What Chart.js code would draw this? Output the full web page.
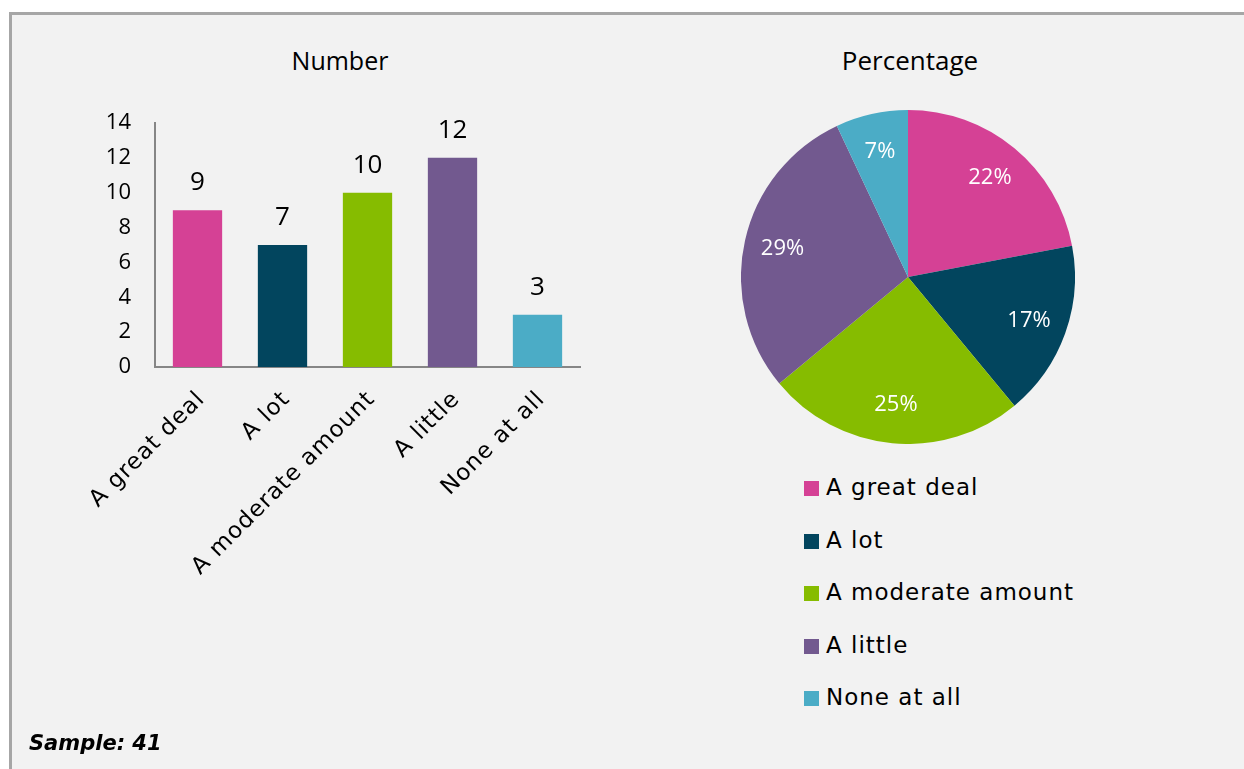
<!DOCTYPE html>
<html>
<head>
<meta charset="utf-8">
<title>Number and percentage</title>
<script src="https://cdn.jsdelivr.net/npm/chart.js@4.4.0/dist/chart.umd.min.js"></script>
<style>
    html, body { margin: 0; padding: 0; background: #fff; overflow: hidden; width: 1244px; height: 769px; }
    #frame {
        position: absolute; left: 9px; top: 12px; width: 1260px; height: 780px;
        background: #f2f2f2; border-top: 3px solid #a6a6a6; border-left: 3px solid #a6a6a6;
    }
    .chart-title {
        position: absolute; width: 240px; text-align: center;
        font: 25px "Open Sans", sans-serif; color: #000; line-height: 30px;
    }
    #bar-chart { position: absolute; left: 0; top: 0; }
    #pie-chart { position: absolute; left: 741px; top: 110px; }
    #pie-legend { position: absolute; left: 804px; top: 474px; margin: 0; padding: 0; list-style: none; }
    #pie-legend li {
        height: 52.5px; line-height: 52.5px; white-space: nowrap;
        font: 23px "DejaVu Sans", sans-serif; letter-spacing: 1px; color: #000;
    }
    #pie-legend .swatch { display: inline-block; width: 15px; height: 15px; margin-right: 7px; vertical-align: -1px; }
    #sample {
        position: absolute; left: 29px; top: 731px; line-height: 24px;
        font: oblique bold 21px "DejaVu Sans", sans-serif; color: #000;
    }
</style>
</head>
<body>
<div id="frame"></div>
<div class="chart-title" style="left:220px; top:45px;">Number</div>
<div class="chart-title" style="left:790px; top:45px; font-size:26px;">Percentage</div>
<canvas id="bar-chart" width="640" height="769"></canvas>
<canvas id="pie-chart" width="334" height="334"></canvas>
<ul id="pie-legend"></ul>
<div id="sample">Sample: 41</div>

<script>
// --- Data ---
const categories = ['A great deal', 'A lot', 'A moderate amount', 'A little', 'None at all'];
const counts = [9, 7, 10, 12, 3];
const percentages = [22, 17, 25, 29, 7];
const yTickValues = [0, 2, 4, 6, 8, 10, 12, 14];
const colours = ['#d54195', '#02455e', '#86bc00', '#72598f', '#4bacc6'];

Chart.defaults.animation = false;
Chart.defaults.font.family = '"Open Sans", sans-serif';
Chart.defaults.color = '#000';

// Category labels are drawn with a little tracking; reset before the bars go down
const trackedLabels = {
    id: 'trackedLabels',
    beforeDraw(chart) { chart.ctx.letterSpacing = '1px'; },
    beforeDatasetsDraw(chart) { chart.ctx.letterSpacing = '0px'; }
};

// Value above each bar
const barValueLabels = {
    id: 'barValueLabels',
    afterDatasetsDraw(chart) {
        const ctx = chart.ctx;
        const meta = chart.getDatasetMeta(0);
        ctx.save();
        ctx.font = '26px "Open Sans", sans-serif';
        ctx.fillStyle = '#000';
        ctx.textAlign = 'center';
        ctx.textBaseline = 'alphabetic';
        meta.data.forEach((bar, i) => {
            ctx.fillText(String(counts[i]), bar.x, bar.y - 20);
        });
        ctx.restore();
    }
};

// Percent label inside each slice
const sliceLabels = {
    id: 'sliceLabels',
    afterDatasetsDraw(chart) {
        const ctx = chart.ctx;
        const meta = chart.getDatasetMeta(0);
        ctx.save();
        ctx.font = '22px "Open Sans", sans-serif';
        ctx.fillStyle = '#fff';
        ctx.textAlign = 'center';
        ctx.textBaseline = 'middle';
        meta.data.forEach((arc, i) => {
            const mid = (arc.startAngle + arc.endAngle) / 2;
            const r = arc.outerRadius * 0.77;
            ctx.fillText(percentages[i] + '%', arc.x + Math.cos(mid) * r, arc.y + Math.sin(mid) * r);
        });
        ctx.restore();
    }
};

// --- Bar chart ---
const barChart = new Chart(document.getElementById('bar-chart'), {
    type: 'bar',
    data: {
        labels: categories,
        datasets: [{
            data: counts,
            backgroundColor: colours,
            borderWidth: 0,
            categoryPercentage: 1,
            barPercentage: 0.58
        }]
    },
    options: {
        responsive: false,
        layout: { padding: { top: 123, left: 0, right: 60, bottom: 0 } },
        plugins: { legend: { display: false }, tooltip: { enabled: false } },
        scales: {
            y: {
                min: 0,
                max: 14,
                afterBuildTicks: scale => { scale.ticks = yTickValues.map(v => ({ value: v })); },
                afterFit: scale => { scale.width = 155; },
                grid: { display: false, drawTicks: false },
                border: { display: true, color: '#868686', width: 2 },
                ticks: { z: 1, padding: 24, font: { size: 22 }, color: '#000' }
            },
            x: {
                afterFit: scale => { scale.height = 769 - 367; },
                grid: { display: false, drawTicks: false },
                border: { display: true, color: '#868686', width: 2 },
                ticks: {
                    autoSkip: false,
                    minRotation: 45,
                    maxRotation: 45,
                    padding: 19,
                    labelOffset: 4,
                    font: { family: '"DejaVu Sans", sans-serif', size: 23 },
                    color: '#000'
                }
            }
        }
    },
    plugins: [trackedLabels, barValueLabels]
});

// --- Pie chart ---
const pieChart = new Chart(document.getElementById('pie-chart'), {
    type: 'pie',
    data: {
        labels: categories,
        datasets: [{
            data: percentages,
            backgroundColor: colours,
            borderWidth: 0
        }]
    },
    options: {
        responsive: false,
        plugins: { legend: { display: false }, tooltip: { enabled: false } }
    },
    plugins: [sliceLabels]
});

// --- Legend (vertical list under the pie) ---
const legendList = document.getElementById('pie-legend');
categories.forEach((name, i) => {
    const item = document.createElement('li');
    item.innerHTML = `<span class="swatch" style="background:${colours[i]}"></span>${name}`;
    legendList.appendChild(item);
});
</script>
</body>
</html>
